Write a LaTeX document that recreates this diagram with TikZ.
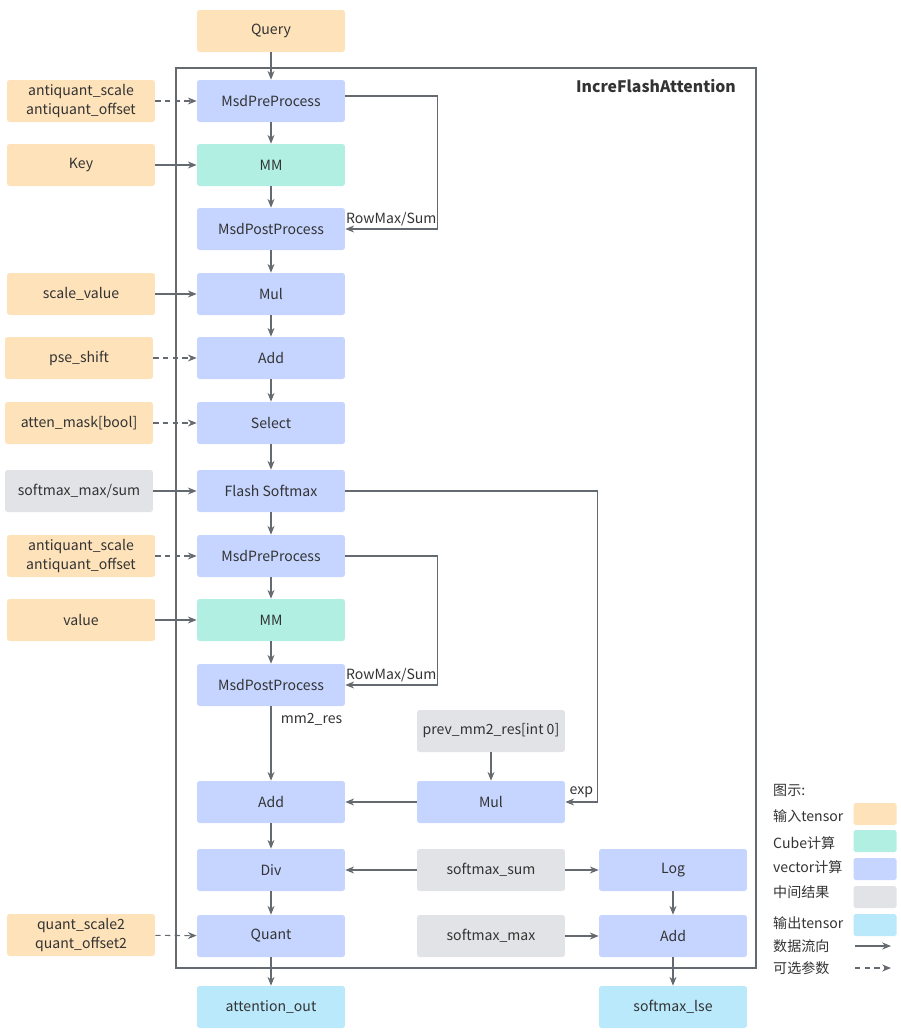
\documentclass[tikz,border=0pt]{standalone}
\usepackage{fontspec}
\setmainfont{Noto Sans CJK SC}
\usetikzlibrary{arrows.meta}
\definecolor{intensor}{HTML}{FDE2BA}
\definecolor{cubecol}{HTML}{B0EFE1}
\definecolor{veccol}{HTML}{C5D5FF}
\definecolor{midcol}{HTML}{E2E3E6}
\definecolor{outtensor}{HTML}{B9E9FB}
\definecolor{linecol}{HTML}{656970}
\definecolor{txtcol}{HTML}{333333}

\begin{document}
\begin{tikzpicture}[x=0.02cm,y=-0.02cm,>={Stealth[length=5pt,width=4pt]},
  every node/.style={font=\fontsize{8}{10.8}\selectfont,text=txtcol},
  box/.style={minimum width=2.96cm,minimum height=0.84cm,inner sep=0pt,rounded corners=1.5pt,align=center},
  inbox/.style={box,fill=intensor},
  cubebox/.style={box,fill=cubecol},
  vecbox/.style={box,fill=veccol},
  midbox/.style={box,fill=midcol},
  outbox/.style={box,fill=outtensor},
  flow/.style={->,draw=linecol,line width=0.6pt},
  optflow/.style={flow,dash pattern=on 3pt off 2.5pt},
  swatch/.style={minimum width=0.86cm,minimum height=0.44cm,inner sep=0pt,rounded corners=1pt}]
\useasboundingbox (0,0) rectangle (901,1032);
\draw[linecol,line width=1.1pt] (176,68) rectangle (756,968);
\node[font=\fontsize{9}{11}\selectfont\bfseries] (title) at (656,86) {IncreFlashAttention};

\node[inbox] (query) at (271,31) {Query};
\node[vecbox] (pre1) at (271,101) {MsdPreProcess};
\node[cubebox] (mm1) at (271,165) {MM};
\node[vecbox] (post1) at (271,229) {MsdPostProcess};
\node[vecbox] (mul1) at (271,294) {Mul};
\node[vecbox] (add1) at (271,358) {Add};
\node[vecbox] (select) at (271,423) {Select};
\node[vecbox] (flash) at (271,491) {Flash Softmax};
\node[vecbox] (pre2) at (271,556) {MsdPreProcess};
\node[cubebox] (mm2) at (271,620) {MM};
\node[vecbox] (post2) at (271,685) {MsdPostProcess};
\node[vecbox] (add2) at (271,802) {Add};
\node[vecbox] (div) at (271,870) {Div};
\node[vecbox] (quant) at (271,936) {Quant};
\node[outbox] (attout) at (271,1007) {attention\_out};

\node[inbox] (aq1) at (81,101) {antiquant\_scale\\antiquant\_offset};
\node[inbox] (key) at (81,165) {Key};
\node[inbox] (scale) at (81,294) {scale\_value};
\node[inbox] (pse) at (79,358) {pse\_shift};
\node[inbox] (mask) at (79,423) {atten\_mask[bool]};
\node[midbox] (smms) at (79,491) {softmax\_max/sum};
\node[inbox] (aq2) at (81,556) {antiquant\_scale\\antiquant\_offset};
\node[inbox] (value) at (81,620) {value};
\node[inbox] (qs) at (81,935) {quant\_scale2\\quant\_offset2};

\node[midbox] (prev) at (491,731) {prev\_mm2\_res[int 0]};
\node[vecbox] (mul2) at (491,802) {Mul};
\node[midbox] (smsum) at (491,870) {softmax\_sum};
\node[midbox] (smmax) at (491,936) {softmax\_max};
\node[vecbox] (log) at (673,870) {Log};
\node[vecbox] (add3) at (673,936) {Add};
\node[outbox] (lse) at (673,1007) {softmax\_lse};

\draw[flow] (query) -- (pre1);
\draw[flow] (pre1) -- (mm1);
\draw[flow] (mm1) -- (post1);
\draw[flow] (post1) -- (mul1);
\draw[flow] (mul1) -- (add1);
\draw[flow] (add1) -- (select);
\draw[flow] (select) -- (flash);
\draw[flow] (flash) -- (pre2);
\draw[flow] (pre2) -- (mm2);
\draw[flow] (mm2) -- (post2);
\draw[flow] (post2) -- (add2) node[pos=0.17,right,xshift=2pt] {mm2\_res};
\draw[flow] (add2) -- (div);
\draw[flow] (div) -- (quant);
\draw[flow] (quant) -- (attout);

\draw[optflow] (aq1) -- (pre1);
\draw[flow] (key) -- (mm1);
\draw[flow] (scale) -- (mul1);
\draw[optflow] (pse) -- (add1);
\draw[optflow] (mask) -- (select);
\draw[flow] (smms) -- (flash);
\draw[optflow] (aq2) -- (pre2);
\draw[flow] (value) -- (mm2);
\draw[optflow] (qs) -- (quant);

\draw[flow] ([yshift=0.1cm]pre1.east) -- ++(92,0) |- (post1.east) node[pos=0.75,above,inner sep=1.5pt] {RowMax/Sum};
\draw[flow] (pre2.east) -- ++(92,0) |- (post2.east) node[pos=0.75,above,inner sep=1.5pt] {RowMax/Sum};
\draw[flow] (flash.east) -- ++(252,0) |- (mul2.east) node[pos=0.75,above,inner sep=2pt] {exp};

\draw[flow] (prev) -- (mul2);
\draw[flow] (mul2) -- (add2);
\draw[flow] (smsum) -- (div);
\draw[flow] (smsum) -- (log);
\draw[flow] (log) -- (add3);
\draw[flow] (smmax) -- (add3);
\draw[flow] (add3) -- (lse);

\node[anchor=west] (lgtitle) at (767,790) {图示:};
\node[anchor=west] (lg1) at (767,816) {输入tensor};
\node[anchor=west] (lg2) at (767,843) {Cube计算};
\node[anchor=west] (lg3) at (767,867) {vector计算};
\node[anchor=west] (lg4) at (767,892) {中间结果};
\node[anchor=west] (lg5) at (767,923) {输出tensor};
\node[anchor=west] (lg6) at (767,946) {数据流向};
\node[anchor=west] (lg7) at (767,968) {可选参数};
\node[swatch,fill=intensor] (sw1) at (875,814) {};
\node[swatch,fill=cubecol] (sw2) at (875,841) {};
\node[swatch,fill=veccol] (sw3) at (875,869) {};
\node[swatch,fill=midcol] (sw4) at (875,897) {};
\node[swatch,fill=outtensor] (sw5) at (875,925) {};
\coordinate (fa) at (855,946);
\coordinate (fb) at (891,946);
\coordinate (oa) at (855,968);
\coordinate (ob) at (891,968);
\draw[flow] (fa) -- (fb);
\draw[optflow] (oa) -- (ob);
\end{tikzpicture}
\end{document}
